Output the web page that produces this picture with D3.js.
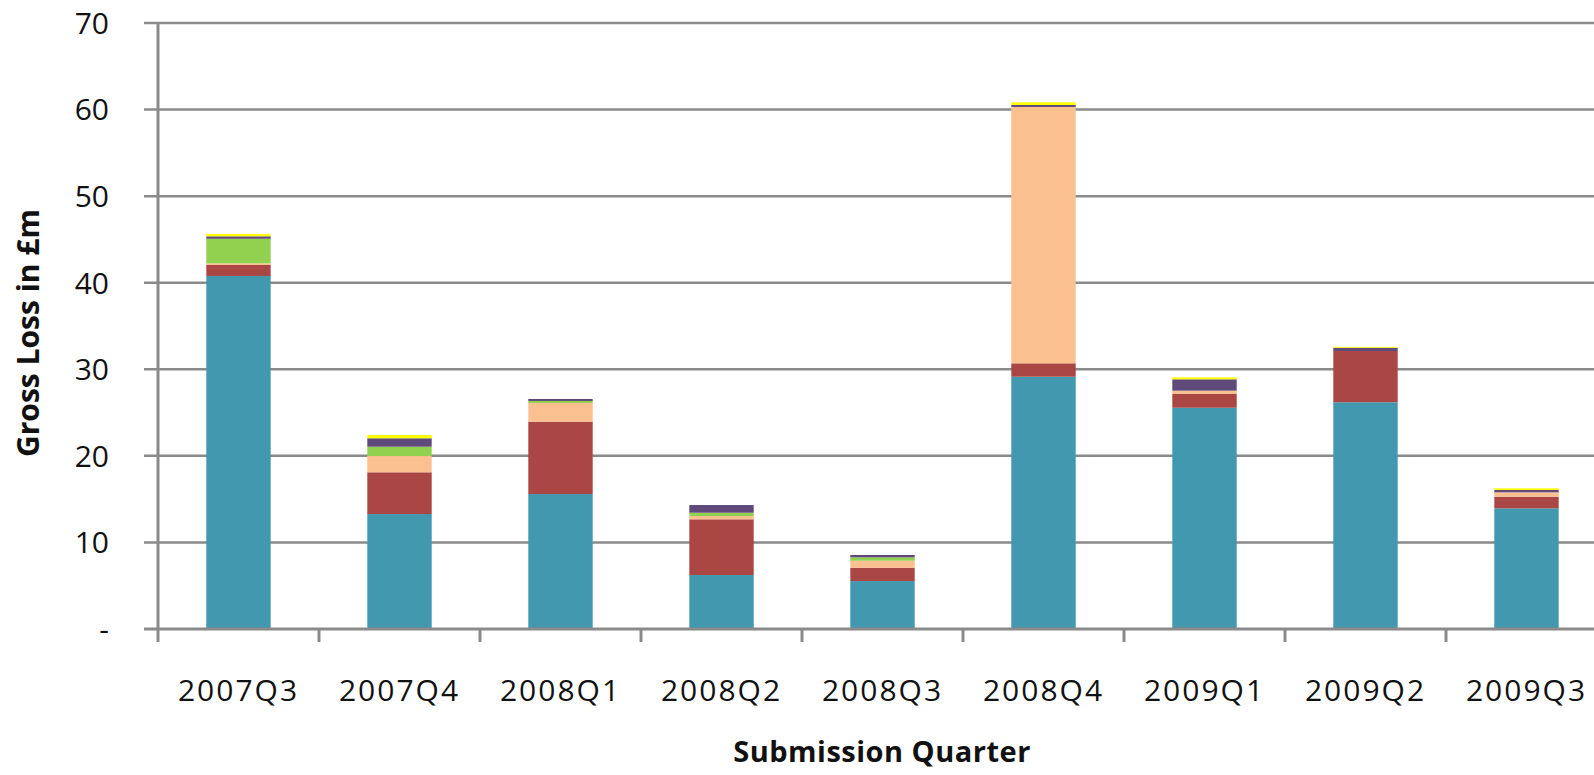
<!DOCTYPE html>
<html>
<head>
<meta charset="utf-8">
<script src="https://cdn.jsdelivr.net/npm/d3@7"></script>
<style>
  html, body { margin: 0; padding: 0; background: #fff; overflow: hidden; }
  svg { display: block; }
  text { font-family: "Open Sans", "Noto Sans", sans-serif; fill: #111; }
</style>
</head>
<body>
<svg id="chart" width="1594" height="775"></svg>
<script>
// Submission quarters along the x axis
const categories = ["2007Q3", "2007Q4", "2008Q1", "2008Q2", "2008Q3", "2008Q4", "2009Q1", "2009Q2", "2009Q3"];

// Gross loss (£m) per stacked component, bottom to top
const tealSeries   = [40.78, 13.28, 15.59, 6.24, 5.54, 29.14, 25.56, 26.19, 13.94];
const redSeries    = [1.27, 4.82, 8.36, 6.43, 1.54, 1.55, 1.59, 5.92, 1.34];
const peachSeries  = [0.19, 1.88, 2.16, 0.38, 0.81, 29.61, 0.38, 0.00, 0.51];
const greenSeries  = [2.84, 1.08, 0.23, 0.38, 0.39, 0.00, 0.00, 0.00, 0.00];
const purpleSeries = [0.28, 0.97, 0.23, 0.89, 0.27, 0.23, 1.31, 0.38, 0.27];
const yellowSeries = [0.27, 0.38, 0.00, 0.00, 0.00, 0.31, 0.23, 0.10, 0.19];

const seriesKeys   = ["teal", "red", "peach", "green", "purple", "yellow"];
const seriesColors = ["#4198AF", "#AA4643", "#FAC090", "#92D050", "#604A7B", "#FFFF00"];

// y tick values and the labels printed beside them
const yTickValues = [0, 10, 20, 30, 40, 50, 60, 70];
const yTickLabels = ["-", "10", "20", "30", "40", "50", "60", "70"];

const yTitle = "Gross Loss in \u00A3m";
const xTitle = "Submission Quarter";

// Assemble a row-per-category table for d3.stack
const columns = [tealSeries, redSeries, peachSeries, greenSeries, purpleSeries, yellowSeries];
const table = categories.map((c, i) => {
  const row = { category: c };
  seriesKeys.forEach((k, j) => { row[k] = columns[j][i]; });
  return row;
});

const svg = d3.select("#chart");
const plotLeft = 158, plotRight = 1607, plotTop = 23, plotBottom = 629;

const x = d3.scaleBand().domain(categories).range([plotLeft, plotRight])
  .paddingInner(0.6).paddingOuter(0.3);
const y = d3.scaleLinear().domain([0, 70]).range([plotBottom, plotTop]);
const color = d3.scaleOrdinal().domain(seriesKeys).range(seriesColors);

const gridColor = "#8a8a8a";

// Horizontal gridlines with small ticks left of the axis
svg.append("g")
  .selectAll("line")
  .data(yTickValues.filter(v => v > 0))
  .join("line")
  .attr("x1", plotLeft - 14).attr("x2", plotRight)
  .attr("y1", d => y(d)).attr("y2", d => y(d))
  .attr("stroke", gridColor).attr("stroke-width", 2.5);

// Stacked bars
const stacked = d3.stack().keys(seriesKeys)(table);
svg.append("g")
  .selectAll("g")
  .data(stacked)
  .join("g")
  .attr("fill", d => color(d.key))
  .selectAll("rect")
  .data(d => d)
  .join("rect")
  .attr("x", d => x(d.data.category))
  .attr("width", x.bandwidth())
  .attr("y", d => y(d[1]))
  .attr("height", d => Math.max(0, y(d[0]) - y(d[1])));

// Axis lines
svg.append("line")
  .attr("x1", plotLeft).attr("x2", plotLeft).attr("y1", plotTop).attr("y2", plotBottom + 13)
  .attr("stroke", gridColor).attr("stroke-width", 3);
svg.append("line")
  .attr("x1", plotLeft - 14).attr("x2", plotRight).attr("y1", plotBottom).attr("y2", plotBottom)
  .attr("stroke", gridColor).attr("stroke-width", 3);

// Category boundary ticks under the x axis
const step = x.step();
svg.append("g")
  .selectAll("line")
  .data(categories.slice(1))
  .join("line")
  .attr("x1", d => x(d) - step * 0.3).attr("x2", d => x(d) - step * 0.3)
  .attr("y1", plotBottom).attr("y2", plotBottom + 13)
  .attr("stroke", gridColor).attr("stroke-width", 3);

// y tick labels
svg.append("g")
  .selectAll("text")
  .data(yTickValues)
  .join("text")
  .attr("x", 109)
  .attr("y", d => y(d))
  .attr("dy", "0.36em")
  .attr("text-anchor", "end")
  .style("font-size", "30px")
  .text((d, i) => yTickLabels[i]);

// x category labels
svg.append("g")
  .selectAll("text")
  .data(categories)
  .join("text")
  .attr("x", d => x(d) + x.bandwidth() / 2)
  .attr("y", 701)
  .attr("text-anchor", "middle")
  .style("font-size", "30px")
  .style("letter-spacing", "2px")
  .text(d => d);

// Axis titles
svg.append("text")
  .attr("transform", "translate(39,333) rotate(-90)")
  .attr("text-anchor", "middle")
  .style("font-size", "30px")
  .style("font-weight", "bold")
  .text(yTitle);

svg.append("text")
  .attr("x", 882).attr("y", 762)
  .attr("text-anchor", "middle")
  .style("font-size", "29px")
  .style("font-weight", "bold")
  .style("letter-spacing", "0.5px")
  .text(xTitle);
</script>
</body>
</html>
